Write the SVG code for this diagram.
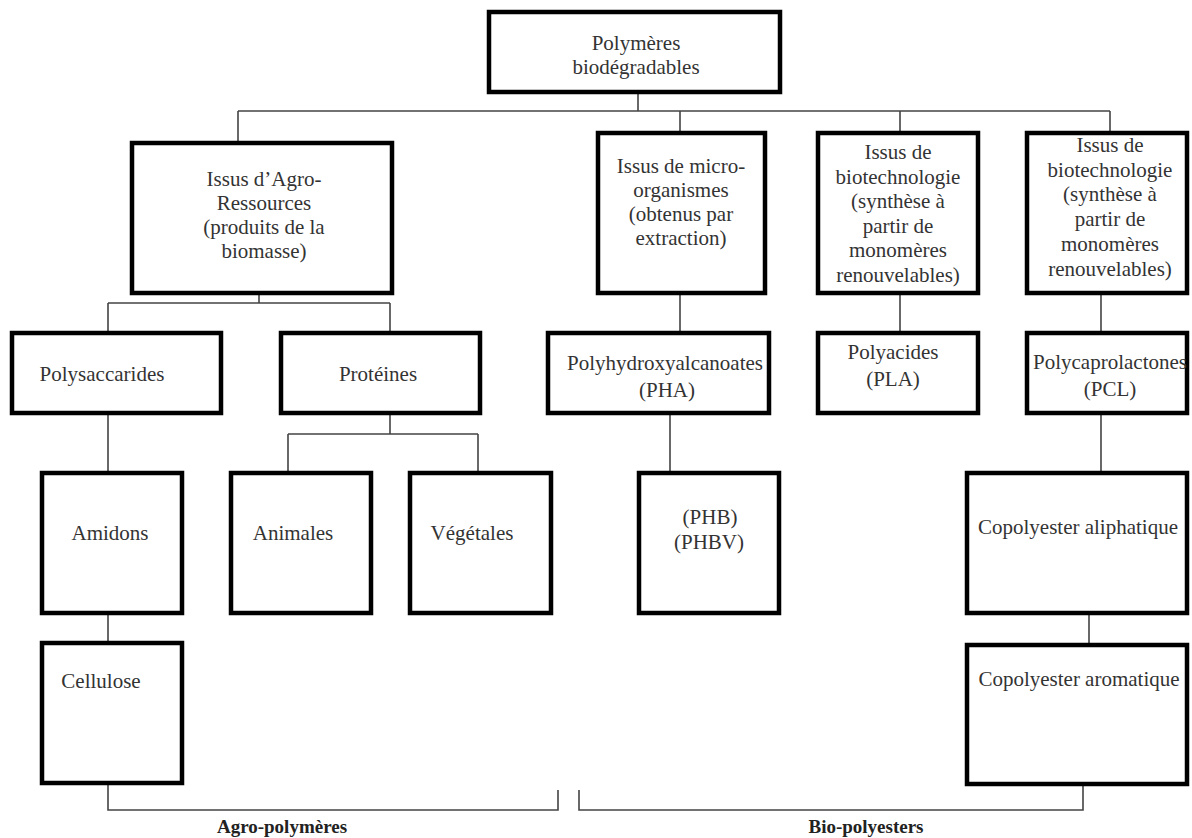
<svg xmlns="http://www.w3.org/2000/svg" width="1192" height="838" viewBox="0 0 1192 838">
<style>
.box{fill:#fff;stroke:#000;stroke-width:4.5}
.t{font-family:"Liberation Serif","Times New Roman",serif;font-size:21px;fill:#333;text-anchor:middle}
.lbl{font-family:"Liberation Serif","Times New Roman",serif;font-size:19px;font-weight:bold;fill:#222;text-anchor:middle}
.c{fill:none;stroke:#444;stroke-width:1.6}
</style>
<rect width="1192" height="838" fill="#fff"/>
<g id="connectors">
<path class="c" d="M638 92V111M238 111H1110M238 111V143M680 111V133M900 111V133M1110 111V133"/>
<path class="c" d="M259 293V303M108 303H390M108 303V333M390 303V333"/>
<path class="c" d="M680 293V333M900 293V333M1101 293V333"/>
<path class="c" d="M108 413V473M390 413V434M288 434H478M288 434V473M478 434V473"/>
<path class="c" d="M670 413V473M1101 413V473"/>
<path class="c" d="M108 613V643M1089 613V645"/>
<path class="c" d="M108 783V810H558V790M579 790V810H1083V784"/>
</g>
<g id="n-root"><rect class="box" x="489" y="12" width="291" height="80"/><text class="t" x="636" y="50">Polymères</text><text class="t" x="636" y="74">biodégradables</text></g>
<g id="n-agro"><rect class="box" x="132" y="143" width="260" height="150"/><text class="t" x="264" y="186">Issus d’Agro-</text><text class="t" x="264" y="210">Ressources</text><text class="t" x="264" y="234">(produits de la</text><text class="t" x="264" y="258">biomasse)</text></g>
<g id="n-micro"><rect class="box" x="598" y="133" width="167" height="160"/><text class="t" x="681" y="173">Issus de micro-</text><text class="t" x="681" y="197">organismes</text><text class="t" x="681" y="221">(obtenus par</text><text class="t" x="681" y="245">extraction)</text></g>
<g id="n-bio1"><rect class="box" x="818" y="133" width="160" height="160"/><text class="t" x="898" y="159">Issus de</text><text class="t" x="898" y="184">biotechnologie</text><text class="t" x="898" y="208">(synthèse à</text><text class="t" x="898" y="233">partir de</text><text class="t" x="898" y="257">monomères</text><text class="t" x="898" y="282">renouvelables)</text></g>
<g id="n-bio2"><rect class="box" x="1027" y="133" width="160" height="160"/><text class="t" x="1110" y="152">Issus de</text><text class="t" x="1110" y="177">biotechnologie</text><text class="t" x="1110" y="201">(synthèse à</text><text class="t" x="1110" y="226">partir de</text><text class="t" x="1110" y="251">monomères</text><text class="t" x="1110" y="276">renouvelables)</text></g>
<g id="n-polysacc"><rect class="box" x="12" y="333" width="209" height="80"/><text class="t" x="102" y="381">Polysaccarides</text></g>
<g id="n-proteines"><rect class="box" x="281" y="333" width="199" height="80"/><text class="t" x="378" y="381">Protéines</text></g>
<g id="n-pha"><rect class="box" x="548" y="333" width="221" height="80"/><text class="t" x="665" y="370">Polyhydroxyalcanoates</text><text class="t" x="667" y="397">(PHA)</text></g>
<g id="n-pla"><rect class="box" x="818" y="333" width="160" height="80"/><text class="t" x="893" y="359">Polyacides</text><text class="t" x="893" y="386">(PLA)</text></g>
<g id="n-pcl"><rect class="box" x="1027" y="333" width="160" height="80"/><text class="t" x="1110" y="369">Polycaprolactones</text><text class="t" x="1110" y="396">(PCL)</text></g>
<g id="n-amidons"><rect class="box" x="42" y="473" width="140" height="140"/><text class="t" x="110" y="540">Amidons</text></g>
<g id="n-animales"><rect class="box" x="231" y="473" width="140" height="140"/><text class="t" x="293" y="540">Animales</text></g>
<g id="n-vegetales"><rect class="box" x="410" y="473" width="141" height="140"/><text class="t" x="472" y="540">Végétales</text></g>
<g id="n-phb"><rect class="box" x="639" y="473" width="140" height="140"/><text class="t" x="710" y="524">(PHB)</text><text class="t" x="709" y="549">(PHBV)</text></g>
<g id="n-aliph"><rect class="box" x="967" y="473" width="220" height="140"/><text class="t" x="1078" y="534">Copolyester aliphatique</text></g>
<g id="n-cellulose"><rect class="box" x="42" y="643" width="140" height="140"/><text class="t" x="101" y="688">Cellulose</text></g>
<g id="n-arom"><rect class="box" x="967" y="645" width="220" height="139"/><text class="t" x="1079" y="686">Copolyester aromatique</text></g>
<g id="labels"><text class="lbl" x="282" y="833">Agro-polymères</text><text class="lbl" x="866" y="833">Bio-polyesters</text></g>
</svg>
